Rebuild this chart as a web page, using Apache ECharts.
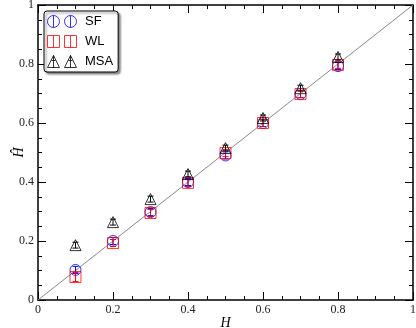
<!DOCTYPE html>
<html>
<head>
<meta charset="utf-8">
<script src="https://cdn.jsdelivr.net/npm/echarts@6/dist/echarts.min.js"></script>
<style>
  html, body { margin: 0; padding: 0; background: #fff; }
  #chart { width: 416px; height: 328px; }
</style>
</head>
<body>
<div id="chart"></div>
<script>
// true H values
const xVals = [0.1, 0.2, 0.3, 0.4, 0.5, 0.6, 0.7, 0.8];
// estimated H per method
const sfVals = [0.102, 0.200, 0.298, 0.400, 0.490, 0.600, 0.698, 0.793];
const sfErr = [0.012, 0.012, 0.012, 0.012, 0.012, 0.012, 0.012, 0.012];
const wlVals = [0.078, 0.193, 0.295, 0.397, 0.498, 0.600, 0.698, 0.797];
const wlErr = [0.015, 0.012, 0.012, 0.012, 0.012, 0.012, 0.012, 0.012];
const msaVals = [0.186, 0.264, 0.342, 0.427, 0.515, 0.617, 0.718, 0.824];
const msaErr = [0.01, 0.01, 0.01, 0.01, 0.01, 0.01, 0.01, 0.01];
const diagLine = [[0, 0], [1, 1]];
const tickLabels = ['0', '0.2', '0.4', '0.6', '0.8', '1'];

const chart = echarts.init(document.getElementById('chart'));

const serif = 'Liberation Serif';

function pairs(vals) {
  return xVals.map((x, i) => [x, vals[i]]);
}
function errData(vals, errs) {
  return xVals.map((x, i) => [x, vals[i] - errs[i], vals[i] + errs[i]]);
}

// error bar: vertical line with small caps
function errorBar(color) {
  return function (params, api) {
    const lo = api.coord([api.value(0), api.value(1)]);
    const hi = api.coord([api.value(0), api.value(2)]);
    const w = 3;
    const st = { stroke: color, lineWidth: 1 };
    return {
      type: 'group',
      children: [
        { type: 'line', shape: { x1: lo[0], y1: lo[1], x2: hi[0], y2: hi[1] }, style: st },
        { type: 'line', shape: { x1: lo[0] - w, y1: lo[1], x2: lo[0] + w, y2: lo[1] }, style: st },
        { type: 'line', shape: { x1: hi[0] - w, y1: hi[1], x2: hi[0] + w, y2: hi[1] }, style: st }
      ]
    };
  };
}

// legend icons: two markers with error bar through them
const iconCircle = 'path://M0,6a6,6 0 1,0 12,0a6,6 0 1,0 -12,0M6,0L6,12M17,6a6,6 0 1,0 12,0a6,6 0 1,0 -12,0M23,0L23,12';
const iconRect = 'path://M0,0L12,0L12,12L0,12ZM6,0L6,12M17,0L29,0L29,12L17,12ZM23,0L23,12';
const iconTri = 'path://M6,0L12,12L0,12ZM6,0L6,12M4,5L8,5M23,0L29,12L17,12ZM23,0L23,12M21,5L25,5';

const axisCommon = {
  type: 'value',
  min: 0,
  max: 1,
  interval: 0.2,
  axisLine: { show: true, onZero: false, lineStyle: { color: '#000', width: 1.5 } },
  axisTick: { show: true, inside: true, length: 8, lineStyle: { color: '#000', width: 1 } },
  minorTick: { show: true, splitNumber: 4, length: 4, lineStyle: { color: '#000', width: 1 } },
  splitLine: { show: false }
};

const option = {
  animation: false,
  backgroundColor: '#fff',
  grid: { left: 38, right: 3, top: 5, bottom: 28, containLabel: false, outerBoundsMode: 'none' },
  legend: {
    left: 44,
    top: 11,
    orient: 'vertical',
    itemWidth: 30,
    itemHeight: 12,
    itemGap: 7,
    padding: [4, 5, 4, 3],
    backgroundColor: '#fff',
    borderColor: '#000',
    borderWidth: 1,
    borderRadius: 3,
    shadowBlur: 2,
    shadowOffsetX: 2,
    shadowOffsetY: 2,
    shadowColor: 'rgba(0,0,0,0.45)',
    textStyle: { fontFamily: 'Liberation Sans', fontSize: 13, color: '#000', padding: [0, 0, 0, 3] },
    data: [
      { name: 'SF', icon: iconCircle, itemStyle: { color: 'transparent', borderColor: '#0000ff', borderWidth: 1 } },
      { name: 'WL', icon: iconRect, itemStyle: { color: 'transparent', borderColor: '#ff0000', borderWidth: 1 } },
      { name: 'MSA', icon: iconTri, itemStyle: { color: 'transparent', borderColor: '#000', borderWidth: 1 } }
    ]
  },
  xAxis: [
    Object.assign({}, axisCommon, {
      position: 'bottom',
      name: 'H',
      nameLocation: 'middle',
      nameGap: 16,
      nameMoveOverlap: false,
      nameTextStyle: { fontFamily: serif, fontStyle: 'italic', fontSize: 14, color: '#000' },
      axisLabel: {
        fontFamily: serif, fontSize: 12, color: '#222', margin: 4,
        formatter: v => tickLabels[Math.round(v / 0.2)]
      }
    }),
    Object.assign({}, axisCommon, { position: 'top', axisLabel: { show: false } })
  ],
  yAxis: [
    Object.assign({}, axisCommon, {
      position: 'left',
      name: 'Ĥ',
      nameLocation: 'middle',
      nameGap: 12,
      nameMoveOverlap: false,
      nameRotate: 90,
      nameTextStyle: { fontFamily: serif, fontStyle: 'italic', fontSize: 14, color: '#000' },
      axisLabel: {
        fontFamily: serif, fontSize: 12, color: '#222', margin: 4,
        formatter: v => tickLabels[Math.round(v / 0.2)]
      }
    }),
    Object.assign({}, axisCommon, { position: 'right', axisLabel: { show: false } })
  ],
  series: [
    {
      name: 'diag',
      type: 'line',
      data: diagLine,
      symbol: 'none',
      lineStyle: { color: '#888', width: 1 },
      silent: true,
      z: 1
    },
    {
      name: 'SF',
      type: 'scatter',
      data: pairs(sfVals),
      symbol: 'circle',
      symbolSize: 11,
      itemStyle: { color: 'transparent', borderColor: '#0000ff', borderWidth: 1 },
      z: 2
    },
    {
      name: 'SF-err',
      type: 'custom',
      data: errData(sfVals, sfErr),
      renderItem: errorBar('#0000ff'),
      z: 2
    },
    {
      name: 'WL',
      type: 'scatter',
      data: pairs(wlVals),
      symbol: 'rect',
      symbolSize: 11,
      itemStyle: { color: 'transparent', borderColor: '#ff0000', borderWidth: 1 },
      z: 3
    },
    {
      name: 'WL-err',
      type: 'custom',
      data: errData(wlVals, wlErr),
      renderItem: errorBar('#ff0000'),
      z: 3
    },
    {
      name: 'MSA',
      type: 'scatter',
      data: pairs(msaVals),
      symbol: 'triangle',
      symbolSize: 11,
      itemStyle: { color: 'transparent', borderColor: '#000', borderWidth: 1 },
      z: 4
    },
    {
      name: 'MSA-err',
      type: 'custom',
      data: errData(msaVals, msaErr),
      renderItem: errorBar('#000'),
      z: 4
    }
  ]
};

chart.setOption(option);
</script>
</body>
</html>
